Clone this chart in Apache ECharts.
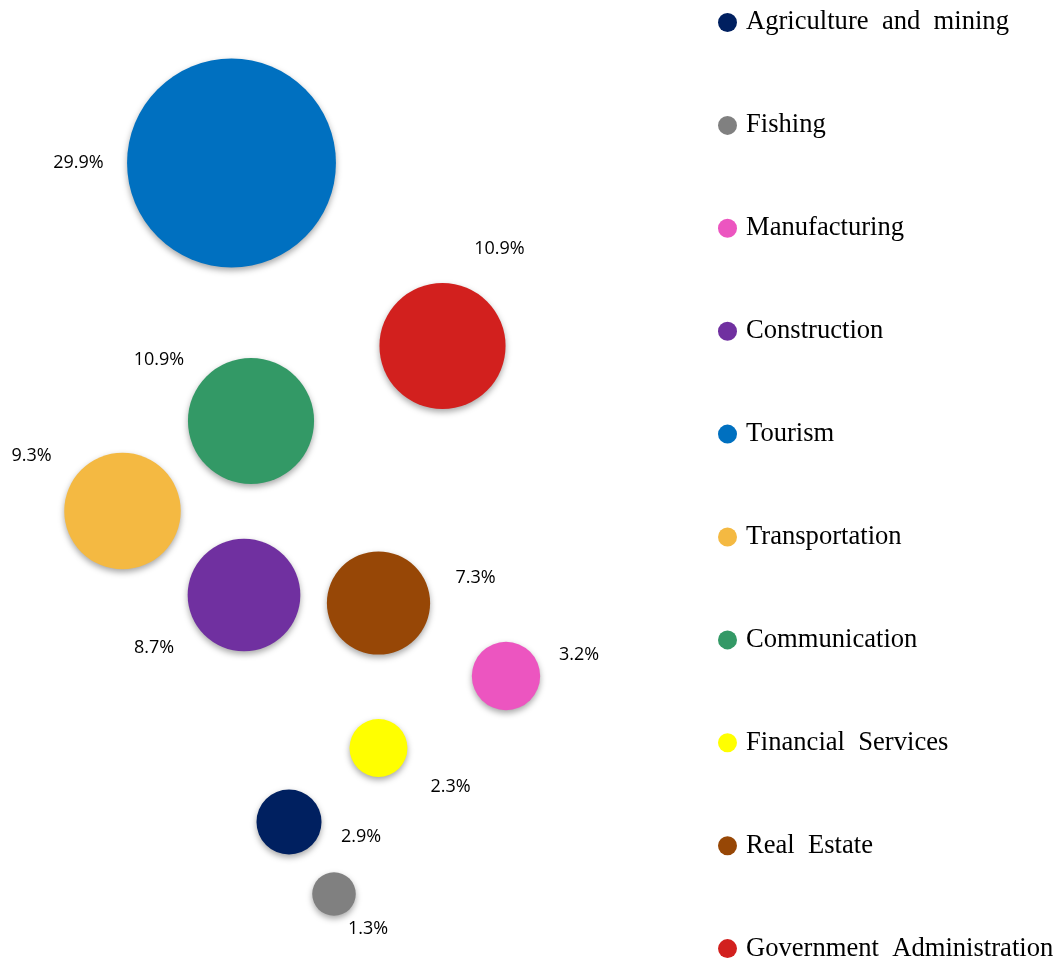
<!DOCTYPE html>
<html>
<head>
<meta charset="utf-8">
<script src="https://cdn.jsdelivr.net/npm/echarts@6/dist/echarts.min.js"></script>
<style>html,body{margin:0;padding:0;background:#fff;}#c{width:1059px;height:963px;}</style>
</head>
<body>
<div id="c"></div>
<script>
// Data
var categories = ['Agriculture and mining','Fishing','Manufacturing','Construction','Tourism','Transportation','Communication','Financial Services','Real Estate','Government Administration'];
var shares = [2.9, 1.3, 3.2, 8.7, 29.9, 9.3, 10.9, 2.3, 7.3, 10.9];
var xValues = [2.89, 3.34, 5.06, 2.44, 2.315, 1.225, 2.51, 3.785, 3.785, 4.425];
var yValues = [0.78, 0.06, 2.24, 3.05, 7.37, 3.89, 4.79, 1.52, 2.97, 5.54];

// Styles
var colors = ['#002060','#808080','#EC55C0','#7030A0','#0070C0','#F4B942','#339966','#FFFF00','#974706','#D2201E'];
var labelOffsets = [[72,15],[34,35],[73,-21],[-90,53],[-153,0],[-91,-55],[-92,-61],[72,39],[97,-25],[57,-97]];

var series = categories.map(function(name, i){
  return {
    name: name,
    type: 'scatter',
    symbol: 'circle',
    symbolSize: function(d){ return 38.2 * Math.sqrt(d[2]); },
    data: [[xValues[i], yValues[i], shares[i]]],
    itemStyle: {
      color: colors[i],
      opacity: 1,
      shadowBlur: 6,
      shadowOffsetY: 3,
      shadowColor: 'rgba(0,0,0,0.35)'
    },
    label: {
      show: true,
      position: 'inside',
      offset: labelOffsets[i],
      formatter: function(p){ return p.data[2].toFixed(1) + '%'; },
      fontFamily: 'Open Sans',
      fontSize: 18,
      color: '#000'
    },
    emphasis: { disabled: true },
    z: 2
  };
});

var chart = echarts.init(document.getElementById('c'), null, {renderer: 'canvas'});
chart.setOption({
  animation: false,
  backgroundColor: '#fff',
  grid: { left: 0, top: 0, width: 700, height: 900 },
  xAxis: { type: 'value', min: 0, max: 7, show: false },
  yAxis: { type: 'value', min: 0, max: 9, show: false },
  legend: {
    type: 'plain',
    orient: 'vertical',
    left: 718,
    top: 9,
    height: 1000,
    padding: 0,
    icon: 'circle',
    itemWidth: 19,
    itemHeight: 19,
    itemGap: 75.9,
    data: categories,
    formatter: function(n){ return n.replace(/ /g, '  '); },
    textStyle: {
      fontFamily: 'Liberation Serif',
      fontSize: 26.6,
      lineHeight: 14,
      color: '#000',
      padding: [0, 0, 10, 4]
    },
    itemStyle: { shadowBlur: 0, shadowOffsetY: 0 }
  },
  series: series
});
</script>
</body>
</html>
